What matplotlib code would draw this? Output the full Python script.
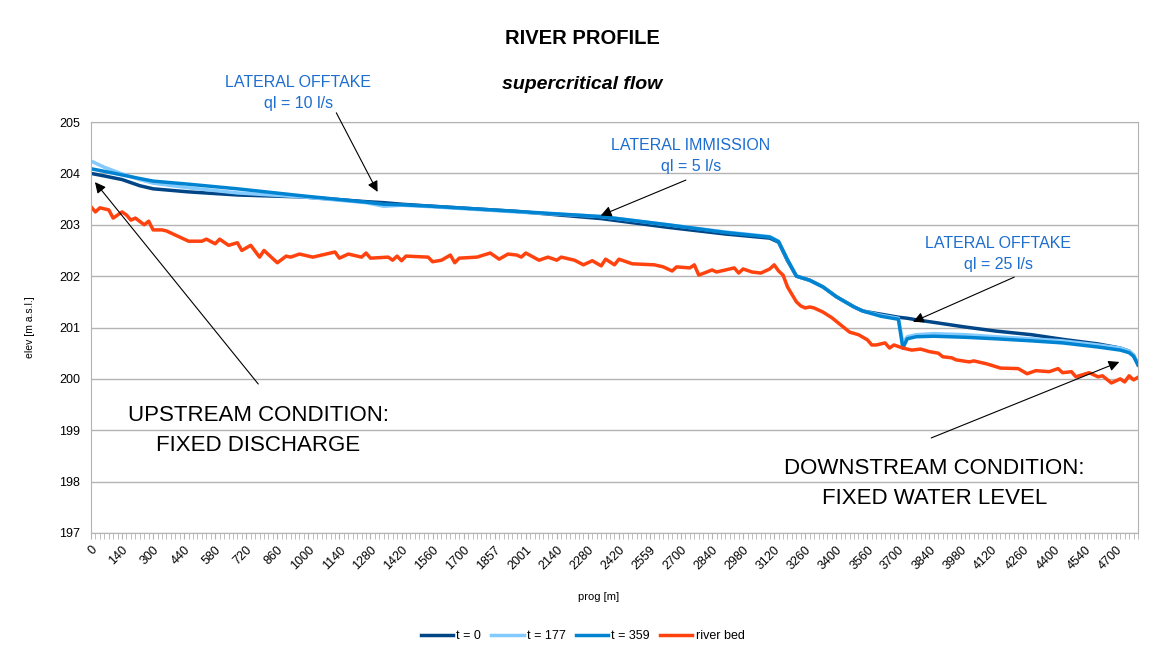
import matplotlib
matplotlib.use("Agg")
import matplotlib.pyplot as plt

plt.rcParams["font.family"] = ["Liberation Sans", "DejaVu Sans"]

# category axis: one station every ~20 m, labelled every 7th station
prog_labels = ["0", "140", "300", "440", "580", "720", "860", "1000", "1140",
               "1280", "1420", "1560", "1700", "1857", "2001", "2140", "2280",
               "2420", "2559", "2700", "2840", "2980", "3120", "3260", "3400",
               "3560", "3700", "3840", "3980", "4120", "4260", "4400", "4540",
               "4700"]
n_stations = 237

# water surface profiles (station index, elevation m a.s.l.)
water_st = [0, 3, 7, 11, 14, 22, 33, 48, 62, 66, 70, 77, 96, 115, 130, 143,
            153, 155, 157, 159, 162, 165, 168, 172, 174, 178, 182, 183, 184,
            186, 190, 197, 204, 212, 219, 227, 232, 234, 235, 236]
t0 = [204.00, 203.95, 203.88, 203.76, 203.70, 203.64, 203.58, 203.54, 203.45,
      203.43, 203.40, 203.36, 203.26, 203.12, 202.95, 202.82, 202.74, 202.66,
      202.30, 202.00, 201.92, 201.79, 201.60, 201.40, 201.32, 201.26, 201.20,
      201.19, 201.18, 201.15, 201.10, 201.01, 200.93, 200.86, 200.77, 200.68,
      200.60, 200.54, 200.46, 200.28]
t177 = [204.24, 204.12, 203.99, 203.88, 203.81, 203.72, 203.62, 203.54, 203.43,
        203.36, 203.38, 203.35, 203.25, 203.16, 203.00, 202.86, 202.77, 202.68,
        202.32, 202.00, 201.92, 201.79, 201.60, 201.40, 201.32, 201.24, 201.18,
        200.70, 200.82, 200.86, 200.88, 200.86, 200.82, 200.78, 200.74, 200.66,
        200.60, 200.54, 200.46, 200.28]
t359 = [204.09, 204.04, 203.97, 203.90, 203.85, 203.79, 203.70, 203.56, 203.44,
        203.40, 203.39, 203.36, 203.26, 203.16, 203.00, 202.85, 202.76, 202.67,
        202.32, 202.00, 201.92, 201.79, 201.60, 201.40, 201.32, 201.22, 201.16,
        200.60, 200.78, 200.82, 200.83, 200.81, 200.78, 200.74, 200.70, 200.62,
        200.56, 200.51, 200.44, 200.27]

# river bed
bed_st = [0, 1, 2, 4, 5, 7, 8, 9, 10, 12, 13, 14, 16, 17, 20, 22, 25, 26, 28,
          29, 31, 33, 34, 36, 38, 39, 42, 44, 45, 47, 50, 52, 55, 56, 58, 61,
          62, 63, 67, 68, 69, 70, 71, 76, 77, 79, 81, 82, 83, 87, 90, 92, 94,
          96, 97, 98, 101, 103, 105, 106, 109, 111, 113, 115, 116, 118, 119,
          122, 127, 129, 131, 132, 135, 136, 137, 140, 141, 143, 145, 146, 147,
          149, 151, 153, 154, 155, 156, 157, 159, 160, 161, 162, 163, 165, 167,
          169, 171, 173, 175, 176, 177, 179, 180, 181, 183, 185, 187, 189, 191,
          192, 194, 195, 198, 199, 202, 205, 209, 211, 213, 216, 218, 219, 221,
          222, 225, 227, 228, 230, 232, 233, 234, 235, 236]
bed = [203.35, 203.25, 203.33, 203.29, 203.13, 203.25, 203.19, 203.09, 203.13,
       203.00, 203.07, 202.90, 202.90, 202.88, 202.76, 202.68, 202.68, 202.72,
       202.63, 202.72, 202.60, 202.65, 202.50, 202.60, 202.37, 202.50, 202.26,
       202.39, 202.37, 202.43, 202.37, 202.41, 202.47, 202.35, 202.43, 202.37,
       202.45, 202.35, 202.37, 202.31, 202.39, 202.30, 202.39, 202.37, 202.28,
       202.31, 202.41, 202.26, 202.35, 202.37, 202.45, 202.33, 202.43, 202.41,
       202.37, 202.45, 202.31, 202.37, 202.31, 202.37, 202.31, 202.22, 202.30,
       202.20, 202.33, 202.22, 202.33, 202.24, 202.22, 202.18, 202.10, 202.18,
       202.16, 202.22, 202.02, 202.12, 202.08, 202.12, 202.16, 202.06, 202.14,
       202.08, 202.06, 202.14, 202.22, 202.10, 202.02, 201.79, 201.50, 201.42,
       201.38, 201.40, 201.38, 201.30, 201.19, 201.05, 200.91, 200.86, 200.76,
       200.66, 200.66, 200.70, 200.60, 200.66, 200.60, 200.56, 200.58, 200.53,
       200.50, 200.43, 200.41, 200.37, 200.33, 200.35, 200.29, 200.21, 200.20,
       200.10, 200.16, 200.14, 200.20, 200.12, 200.14, 200.04, 200.12, 200.04,
       200.06, 199.92, 200.00, 199.94, 200.06, 199.98, 200.03]

GRID = "#b3b3b3"
NOTE = "#1c6dd0"

fig = plt.figure(figsize=(11.65, 6.55), dpi=100)
ax = fig.add_axes([0.0781, 0.1863, 0.8987, 0.6274])

ax.plot(water_st, t0, color="#004586", lw=2.5, label="t = 0")
ax.plot(water_st, t177, color="#83caff", lw=2.5, label="t = 177")
ax.plot(water_st, t359, color="#0084d1", lw=2.5, label="t = 359")
ax.plot(bed_st, bed, color="#ff420e", lw=2.5, label="river bed")

ax.set_xlim(0, n_stations - 1)
ax.set_ylim(197, 205)
ax.set_yticks(range(197, 206))
ax.set_xticks(range(0, 7 * len(prog_labels), 7))
ax.set_xticklabels(prog_labels, rotation=45, ha="right", va="top",
                   rotation_mode="anchor", fontsize=9)
ax.set_xticks(range(n_stations), minor=True)
ax.tick_params(axis="x", which="both", length=4, color=GRID, pad=4)
ax.tick_params(axis="y", length=0, pad=8, labelsize=9)
ax.grid(axis="y", color=GRID, lw=1)
ax.set_axisbelow(True)
for sp in ax.spines.values():
    sp.set_color(GRID)

fig.text(0.5, 0.941, "RIVER PROFILE", ha="center", va="center",
         fontsize=14.5, fontweight="bold")
fig.text(0.5, 0.871, "supercritical flow", ha="center", va="center",
         fontsize=14, fontweight="bold", fontstyle="italic")
fig.text(0.514, 0.0885, "prog [m]", ha="center", va="center", fontsize=8)
fig.text(0.026, 0.5, "elev [m a.s.l.]", ha="center", va="center",
         rotation=90, fontsize=7.5)

arrow = dict(arrowstyle="-|>", color="black", lw=0.8, mutation_scale=16,
             shrinkA=0, shrinkB=0)
small = dict(ha="center", va="center", fontsize=11.5, color=NOTE,
             linespacing=1.5, annotation_clip=False)
big = dict(ha="center", va="center", fontsize=16, color="black",
           linespacing=1.55, annotation_clip=False)

ax.annotate("LATERAL OFFTAKE\nql = 10 l/s", xy=(46.7, 205.56), **small)
ax.annotate("", xy=(64.6, 203.64), xytext=(55.3, 205.18),
            arrowprops=arrow, annotation_clip=False)
ax.annotate("LATERAL IMMISSION\nql = 5 l/s", xy=(135.2, 204.34), **small)
ax.annotate("", xy=(114.9, 203.18), xytext=(134.1, 203.87),
            arrowprops=arrow)
ax.annotate("LATERAL OFFTAKE\nql = 25 l/s", xy=(204.5, 202.43), **small)
ax.annotate("", xy=(185.3, 201.11), xytext=(208.1, 201.98),
            arrowprops=arrow)
ax.annotate("UPSTREAM CONDITION:\nFIXED DISCHARGE", xy=(37.7, 198.99), **big)
ax.annotate("", xy=(0.9, 203.83), xytext=(37.7, 199.90), arrowprops=arrow)
ax.annotate("DOWNSTREAM CONDITION:\nFIXED WATER LEVEL", xy=(190.1, 197.97),
            **big)
ax.annotate("", xy=(231.8, 200.33), xytext=(189.4, 198.85), arrowprops=arrow)

fig.legend(loc="center", bbox_to_anchor=(0.5, 0.029), ncol=4, frameon=False,
           fontsize=9, handlelength=2.6, handletextpad=0.25,
           columnspacing=0.8)

fig.savefig("out.png", dpi=100)
